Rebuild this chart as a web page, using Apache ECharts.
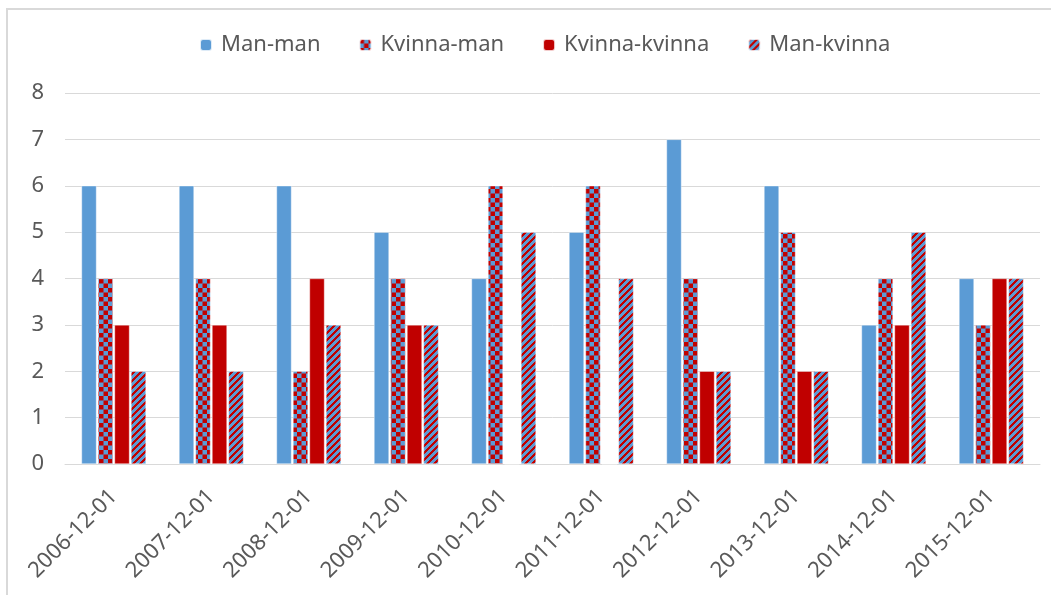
<!DOCTYPE html>
<html>
<head>
<meta charset="utf-8">
<script src="https://cdn.jsdelivr.net/npm/echarts@6/dist/echarts.min.js"></script>
<style>
  html, body { margin: 0; padding: 0; background: #fff; }
  #chart { width: 1051px; height: 595px; }
</style>
</head>
<body>
<div id="chart"></div>
<script>
const categories = ['2006-12-01', '2007-12-01', '2008-12-01', '2009-12-01', '2010-12-01',
    '2011-12-01', '2012-12-01', '2013-12-01', '2014-12-01', '2015-12-01'];
const manMan = [6, 6, 6, 5, 4, 5, 7, 6, 3, 4];
const kvinnaMan = [4, 4, 2, 4, 6, 6, 4, 5, 4, 3];
const kvinnaKvinna = [3, 3, 4, 3, 0, 0, 2, 2, 3, 4];
const manKvinna = [2, 2, 3, 3, 5, 4, 2, 2, 5, 4];
const yTicks = [0, 1, 2, 3, 4, 5, 6, 7, 8];

const BLUE = '#5B9BD5';
const RED = '#C00000';
const TEXT = '#595959';
const FONT = 'Noto Sans';

// checkerboard tile
const makeChecker = () => {
    const c = document.createElement('canvas');
    c.width = 9; c.height = 9;
    const ctx = c.getContext('2d');
    ctx.fillStyle = BLUE;
    ctx.fillRect(0, 0, 9, 9);
    ctx.fillStyle = RED;
    ctx.fillRect(0, 0, 4.5, 4.5);
    ctx.fillRect(4.5, 4.5, 4.5, 4.5);
    return c;
};

// diagonal stripes "/"
const makeStripes = () => {
    const n = 7;
    const c = document.createElement('canvas');
    c.width = n; c.height = n;
    const ctx = c.getContext('2d');
    for (let x = 0; x < n; x++) {
        for (let y = 0; y < n; y++) {
            ctx.fillStyle = ((x + y) % n) < 3 ? RED : BLUE;
            ctx.fillRect(x, y, 1, 1);
        }
    }
    return c;
};

const checker = {image: makeChecker(), repeat: 'repeat'};
const stripes = {image: makeStripes(), repeat: 'repeat'};

const chart = echarts.init(document.getElementById('chart'));

const barStyle = (color) => ({
    color: color,
    borderColor: 'rgba(255,255,255,0.8)',
    borderWidth: 0.5
});

chart.setOption({
    backgroundColor: '#fff',
    animation: false,
    graphic: [{
        type: 'rect',
        shape: {x: 7, y: 9, width: 1100, height: 700},
        style: {fill: 'none', stroke: '#d9d9d9', lineWidth: 2},
        silent: true
    }],
    legend: {
        top: 29,
        left: 194,
        itemWidth: 12,
        itemHeight: 12,
        itemGap: 38,
        textStyle: {color: TEXT, fontSize: 22, fontFamily: FONT, padding: [0, 0, 0, 4]},
        data: ['Man-man', 'Kvinna-man', 'Kvinna-kvinna', 'Man-kvinna']
    },
    grid: {
        left: 65,
        right: 11,
        top: 93,
        bottom: 131
    },
    xAxis: {
        type: 'category',
        data: categories,
        axisLine: {show: true, lineStyle: {color: '#d9d9d9', width: 1}},
        axisTick: {show: false},
        axisLabel: {
            rotate: 45,
            interval: 0,
            margin: 29,
            color: TEXT,
            fontSize: 22,
            fontFamily: FONT
        }
    },
    yAxis: {
        type: 'value',
        min: 0,
        max: 8,
        interval: 1,
        axisLine: {show: false},
        axisTick: {show: false},
        axisLabel: {
            color: TEXT,
            fontSize: 22,
            fontFamily: FONT,
            margin: 21,
            formatter: (v) => yTicks.includes(v) ? String(v) : ''
        },
        splitLine: {lineStyle: {color: '#d9d9d9', width: 1}}
    },
    series: [
        {name: 'Man-man', type: 'bar', data: manMan, barWidth: 15, barGap: '10%', itemStyle: barStyle(BLUE)},
        {name: 'Kvinna-man', type: 'bar', data: kvinnaMan, barWidth: 15, barGap: '10%', itemStyle: barStyle(checker)},
        {name: 'Kvinna-kvinna', type: 'bar', data: kvinnaKvinna, barWidth: 15, barGap: '10%', itemStyle: barStyle(RED)},
        {name: 'Man-kvinna', type: 'bar', data: manKvinna, barWidth: 15, barGap: '10%', itemStyle: barStyle(stripes)}
    ]
});
</script>
</body>
</html>
